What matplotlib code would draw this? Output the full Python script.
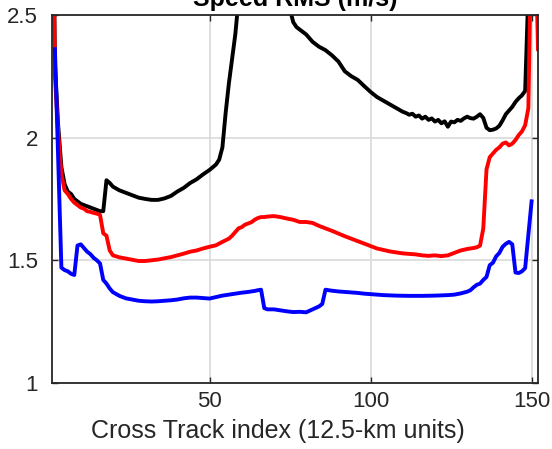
import matplotlib
matplotlib.use("Agg")
import matplotlib.pyplot as plt

# cross-track index / speed rms values
black_x = [1, 2, 3, 4, 5, 6, 7, 8, 9, 10,
           11, 12, 13, 14, 15, 16, 17, 18, 19, 20,
           22, 24, 26, 28, 30, 32, 34, 36, 38, 40,
           42, 44, 46, 48, 50, 52, 53, 54, 55, 56,
           57, 58, 59, 62, 66, 70, 73, 75, 76, 77,
           78, 80, 82, 84, 86, 88, 90, 92, 94, 96,
           98, 100, 102, 104, 106, 108, 110, 111, 112, 113,
           114, 115, 116, 117, 118, 119, 120, 121, 122, 123,
           124, 125, 126, 127, 128, 129, 130, 131, 132, 133,
           134, 135, 136, 137, 138, 139, 140, 141, 142, 143,
           144, 145, 146, 147, 148, 149, 150]
black_y = [3.50, 2.30, 2.05, 1.88, 1.81, 1.78, 1.77, 1.75, 1.74, 1.73,
           1.725, 1.72, 1.715, 1.71, 1.705, 1.70, 1.70, 1.826, 1.815, 1.80,
           1.785, 1.775, 1.765, 1.755, 1.75, 1.746, 1.746, 1.752, 1.762, 1.78,
           1.795, 1.815, 1.83, 1.85, 1.868, 1.89, 1.91, 1.96, 2.10, 2.22,
           2.32, 2.42, 2.56, 2.80, 2.95, 2.85, 2.65, 2.52, 2.47, 2.45,
           2.44, 2.42, 2.39, 2.37, 2.356, 2.335, 2.31, 2.27, 2.25, 2.235,
           2.21, 2.186, 2.165, 2.15, 2.135, 2.12, 2.105, 2.10, 2.093, 2.097,
           2.085, 2.09, 2.077, 2.085, 2.072, 2.078, 2.065, 2.072, 2.058, 2.066,
           2.044, 2.065, 2.062, 2.072, 2.068, 2.078, 2.085, 2.079, 2.077, 2.085,
           2.095, 2.08, 2.04, 2.03, 2.032, 2.037, 2.048, 2.07, 2.095, 2.11,
           2.125, 2.145, 2.16, 2.172, 2.19, 2.60, 3.20]

red_x = [1, 2, 3, 4, 5, 6, 7, 8, 9, 10,
         11, 12, 13, 14, 15, 16, 17, 18, 19, 20,
         22, 24, 26, 28, 30, 32, 34, 36, 38, 40,
         42, 44, 46, 48, 50, 52, 54, 56, 57, 58,
         59, 60, 61, 62, 63, 64, 65, 66, 67, 68,
         70, 72, 74, 76, 78, 80, 82, 84, 86, 88,
         90, 92, 94, 96, 98, 100, 102, 104, 106, 108,
         110, 112, 114, 116, 118, 120, 122, 124, 126, 128,
         130, 132, 133, 134, 135, 136, 137, 138, 139, 140,
         141, 142, 143, 144, 145, 146, 147, 148, 149, 150,
         151, 152]
red_y = [3.50, 2.25, 2.02, 1.85, 1.785, 1.77, 1.75, 1.735, 1.725, 1.715,
         1.71, 1.70, 1.697, 1.693, 1.69, 1.685, 1.61, 1.60, 1.54, 1.52,
         1.512, 1.507, 1.502, 1.497, 1.497, 1.50, 1.503, 1.508, 1.513, 1.52,
         1.527, 1.535, 1.54, 1.548, 1.555, 1.561, 1.575, 1.588, 1.60, 1.615,
         1.63, 1.635, 1.645, 1.65, 1.655, 1.665, 1.672, 1.676, 1.676, 1.678,
         1.68, 1.676, 1.67, 1.665, 1.656, 1.656, 1.652, 1.64, 1.63, 1.62,
         1.609, 1.598, 1.588, 1.578, 1.568, 1.558, 1.548, 1.542, 1.536, 1.532,
         1.528, 1.526, 1.524, 1.52, 1.518, 1.52, 1.517, 1.52, 1.53, 1.54,
         1.546, 1.55, 1.553, 1.56, 1.63, 1.87, 1.92, 1.935, 1.95, 1.96,
         1.975, 1.98, 1.968, 1.975, 1.99, 2.01, 2.025, 2.05, 2.12, 2.90,
         2.90, 2.36]

blue_x = [2, 4, 5, 6, 7, 8, 9, 10, 11, 12,
          13, 14, 15, 16, 17, 18, 19, 20, 22, 24,
          26, 28, 30, 32, 34, 36, 38, 40, 42, 44,
          46, 48, 50, 52, 54, 56, 58, 60, 62, 64,
          65, 66, 67, 68, 70, 72, 74, 76, 78, 80,
          82, 84, 85, 86, 88, 90, 92, 94, 96, 98,
          100, 104, 108, 112, 116, 120, 124, 126, 128, 130,
          131, 132, 133, 134, 135, 136, 137, 138, 139, 140,
          141, 142, 143, 144, 145, 146, 147, 148, 150]
blue_y = [2.36, 1.47, 1.46, 1.455, 1.445, 1.44, 1.56, 1.565, 1.55, 1.535,
          1.525, 1.51, 1.50, 1.487, 1.42, 1.405, 1.385, 1.37, 1.355, 1.345,
          1.34, 1.335, 1.333, 1.332, 1.333, 1.335, 1.337, 1.34, 1.345, 1.348,
          1.348, 1.346, 1.344, 1.35, 1.356, 1.36, 1.364, 1.368, 1.371, 1.375,
          1.378, 1.38, 1.305, 1.30, 1.30, 1.296, 1.292, 1.289, 1.29, 1.288,
          1.30, 1.312, 1.322, 1.38, 1.376, 1.373, 1.371, 1.369, 1.367, 1.364,
          1.362, 1.358, 1.356, 1.355, 1.355, 1.356, 1.358, 1.36, 1.365, 1.372,
          1.378, 1.39, 1.40, 1.405, 1.42, 1.432, 1.48, 1.49, 1.516, 1.53,
          1.555, 1.567, 1.575, 1.565, 1.45, 1.448, 1.455, 1.468, 1.74]

x_ticks = [50, 100, 150]
y_ticks = [1, 1.5, 2, 2.5]

plt.rcParams['font.family'] = ['Liberation Sans', 'DejaVu Sans']

fig = plt.figure(figsize=(5.52, 4.49), dpi=100)
ax = fig.add_axes([0.0937, 0.147, 0.881, 0.820])

ax.plot(black_x, black_y, color='black', linewidth=2.8)
ax.plot(red_x, red_y, color='red', linewidth=2.8)
ax.plot(blue_x, blue_y, color='blue', linewidth=2.8)

ax.set_xlim(1, 152)
ax.set_ylim(1, 2.5)
ax.set_xticks(x_ticks)
ax.set_yticks(y_ticks)
ax.set_yticklabels(['1', '1.5', '2', '2.5'])
ax.grid(True, color='#dcdcdc', linewidth=1.3)
ax.set_axisbelow(True)

for s in ax.spines.values():
    s.set_color('#262626')
    s.set_linewidth(1.3)
ax.tick_params(direction='in', length=4, width=1, colors='#262626',
               labelsize=16, top=True, right=True)
ax.tick_params(axis='x', pad=6)
ax.tick_params(axis='y', pad=10)

ax.set_xlabel('Cross Track index (12.5-km units)', fontsize=18,
              color='#262626')
ax.xaxis.set_label_coords(0.465, -0.098)
ax.set_title('Speed RMS (m/s)', fontsize=18, fontweight='bold', pad=6)

fig.savefig('out.png', dpi=100)
